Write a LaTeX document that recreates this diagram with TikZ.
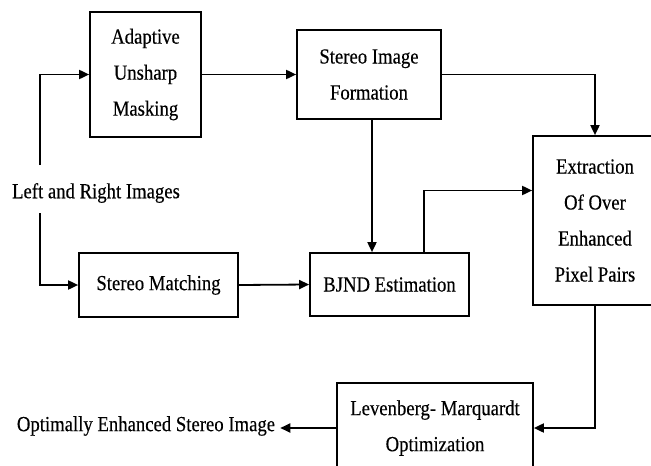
\documentclass[tikz,border=0pt]{standalone}
\usepackage{fontspec}
\setmainfont[FakeStretch=0.87,FakeBold=0.3]{Liberation Serif}
\usetikzlibrary{arrows.meta}
\begin{document}
\begin{tikzpicture}[x=1pt,y=-1pt,
  every node/.style={font=\fontsize{21.5}{36}\selectfont, inner sep=0pt},
  blk/.style={draw, line width=1.7pt, align=center, anchor=center},
  flow/.style={line width=1.8pt, -{Triangle[length=10pt,width=9pt]}}]
\useasboundingbox (0,0) rectangle (651,466);
\clip (0,0) rectangle (651,466);

% processing blocks
\node[blk, minimum width=111, minimum height=125] (aum) at (145.5,74.5) {Adaptive\\Unsharp\\Masking};
\node[blk, minimum width=144, minimum height=89] (sif) at (369,74.5) {Stereo Image\\Formation};
\node[blk, minimum width=124, minimum height=169] (ext) at (595,220.5) {Extraction\\Of Over\\Enhanced\\Pixel Pairs};
\node[blk, minimum width=159, minimum height=63] (bjnd) at (389.5,284.5) {BJND Estimation};
\node[blk, minimum width=159, minimum height=64] (sm) at (158.5,285) {Stereo Matching};
\node[blk, minimum width=196, minimum height=90] (lm) at (435,428) {Levenberg- Marquardt\\Optimization};

% input and output labels
\node (in) at (96,193) {Left and Right Images};
\node (out) at (146,426) {Optimally Enhanced Stereo Image};

% split of the input line around its label
\coordinate (ja) at (40,165);
\coordinate (jb) at (40,213);

\draw[flow] (ja) |- (aum.west);
\draw[flow] (jb) |- (sm.west);
\draw[flow] (aum.east) -- (sif.west);
\draw[flow] (sif.east) -| (ext.north);
\draw[flow] ([xshift=3pt]sif.south) -- ([xshift=3pt]sif.south |- bjnd.north);
\draw[flow] ([xshift=34.5pt]bjnd.north) |- ([yshift=30pt]ext.west);
\draw[flow] (sm.east) -- (bjnd.west);
\draw[flow] (ext.south) |- (lm.east);
\draw[flow] (lm.west) -- ([xshift=5pt]lm.west -| out.east);
\end{tikzpicture}
\end{document}
